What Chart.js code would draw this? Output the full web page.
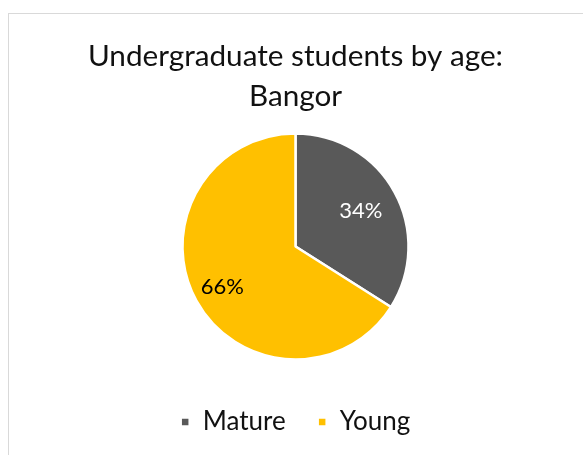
<!DOCTYPE html>
<html lang="en">
<head>
    <meta charset="UTF-8">
    <title>Undergraduate students by age: Bangor</title>
    <script src="https://cdn.jsdelivr.net/npm/chart.js"></script>
    <style>
        body {
            margin: 0;
            background: #fff;
            overflow: hidden;
        }
        .chart-box {
            position: absolute;
            left: 8px;
            top: 13px;
            width: 575px;
            height: 442px;
            border-left: 1px solid #d9d9d9;
            border-top: 1px solid #d9d9d9;
        }
    </style>
</head>
<body>
    <div class="chart-box">
        <canvas id="pieChart" width="575" height="442"></canvas>
    </div>
    <script>
        const chartTitle = ['Undergraduate students by age:', 'Bangor'];
        const ageGroups = ['Mature', 'Young'];
        const shares = [34, 66];
        const sliceColors = ['#595959', '#FFC000'];
        const labelColors = ['#ffffff', '#000000'];

        // percentage labels inside the slices (Excel "best fit" sits them a bit unevenly)
        const labelRadius = [0.66, 0.74];
        const sliceLabels = {
            id: 'sliceLabels',
            afterDatasetsDraw(chart) {
                const ctx = chart.ctx;
                const data = chart.data.datasets[0].data;
                const total = data.reduce((a, b) => a + b, 0);
                chart.getDatasetMeta(0).data.forEach((arc, i) => {
                    const angle = (arc.startAngle + arc.endAngle) / 2;
                    const r = arc.outerRadius * labelRadius[i];
                    const x = arc.x + Math.cos(angle) * r;
                    const y = arc.y + Math.sin(angle) * r;
                    ctx.save();
                    ctx.font = '22px Lato';
                    ctx.fillStyle = labelColors[i];
                    ctx.textAlign = 'center';
                    ctx.textBaseline = 'middle';
                    ctx.fillText(Math.round(data[i] / total * 100) + '%', x, y);
                    ctx.restore();
                });
            }
        };

        new Chart(document.getElementById('pieChart'), {
            type: 'pie',
            data: {
                labels: ageGroups,
                datasets: [{
                    data: shares,
                    backgroundColor: sliceColors,
                    borderColor: '#ffffff',
                    borderWidth: 2.5,
                    radius: 113
                }]
            },
            options: {
                responsive: false,
                animation: false,
                layout: {
                    padding: { left: 0, right: 2, top: 0, bottom: 11 }
                },
                plugins: {
                    title: {
                        display: true,
                        text: chartTitle,
                        color: '#111',
                        font: { family: 'Lato', size: 29.7, weight: 'normal', lineHeight: 1.347 },
                        padding: { top: 22, bottom: 0 }
                    },
                    legend: {
                        position: 'bottom',
                        labels: {
                            color: '#111',
                            font: { family: 'Lato', size: 26 },
                            boxWidth: 9,
                            boxHeight: 9,
                            padding: 32
                        }
                    },
                    tooltip: { enabled: false }
                }
            },
            plugins: [sliceLabels]
        });
    </script>
</body>
</html>
